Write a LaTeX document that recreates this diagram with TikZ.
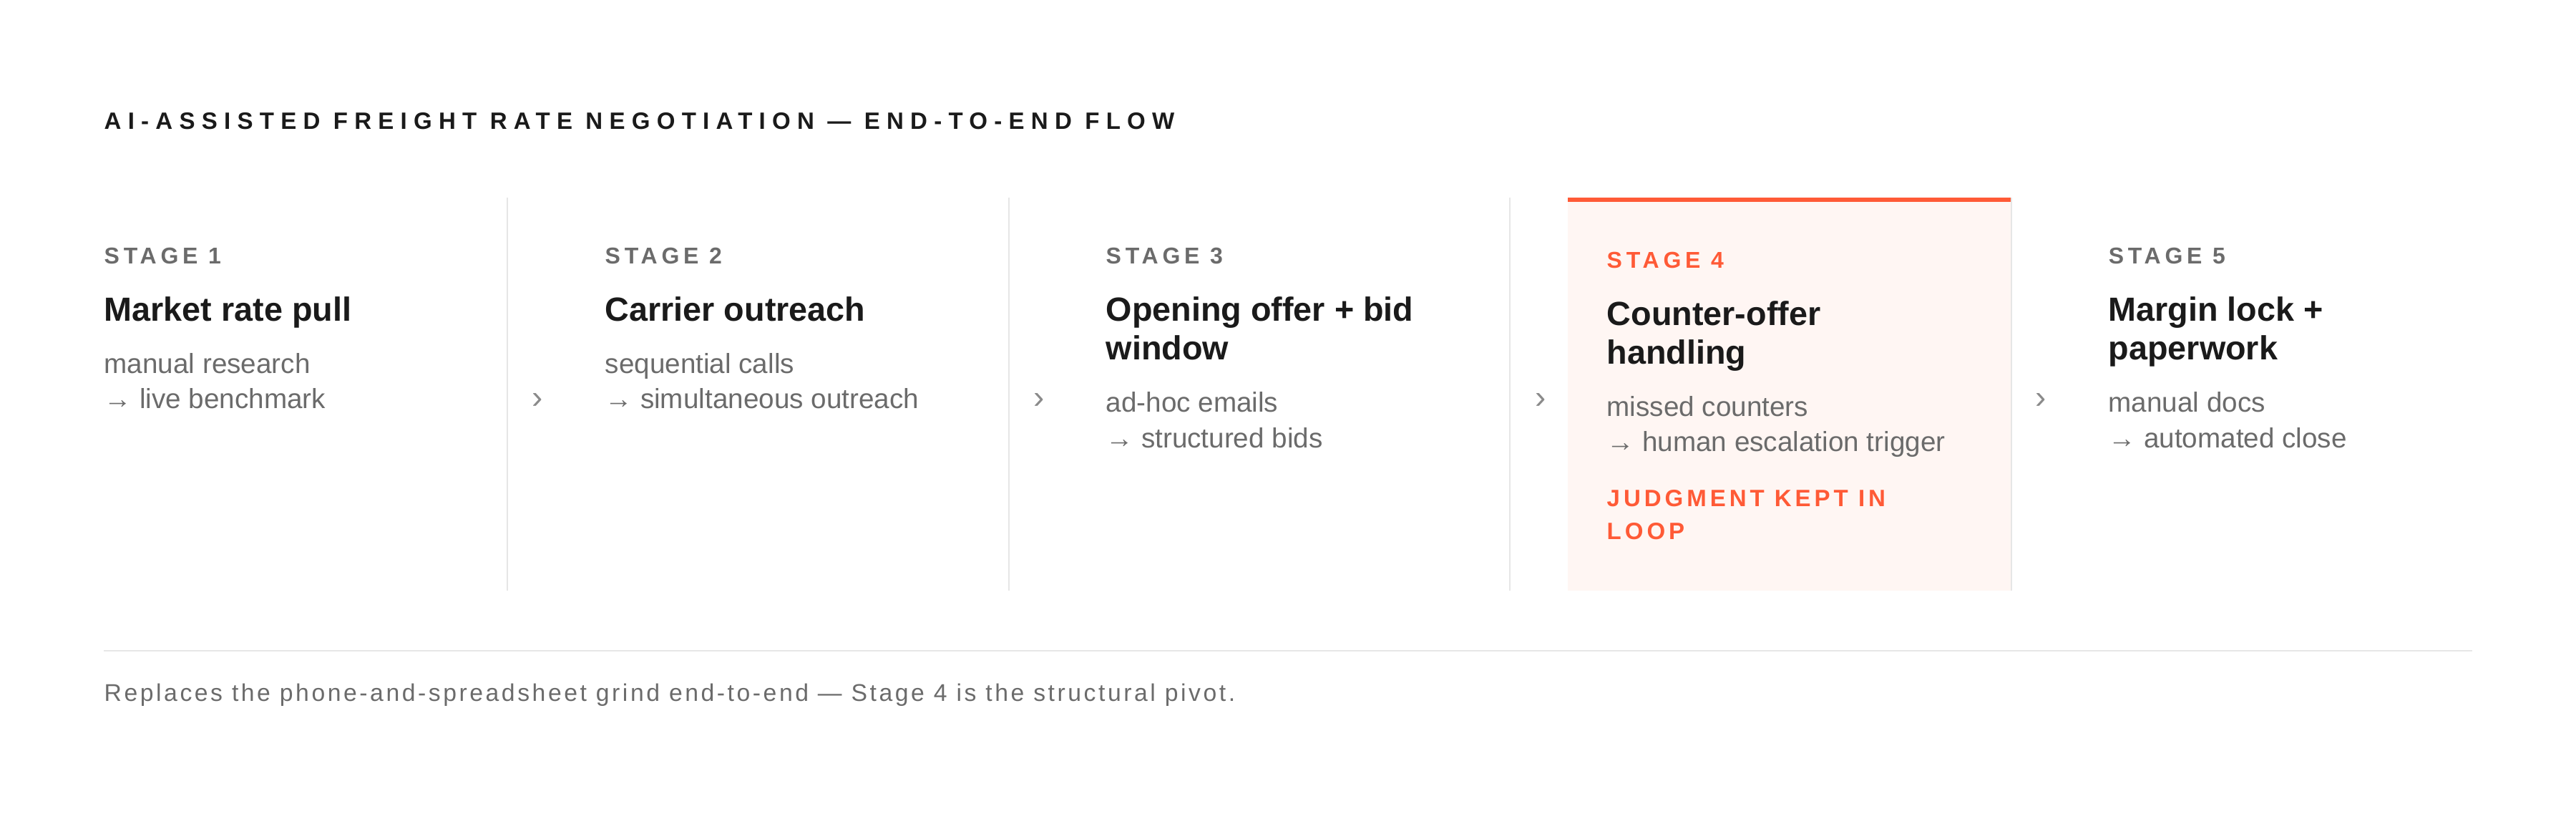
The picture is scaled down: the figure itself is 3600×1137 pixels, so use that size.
\documentclass[tikz,border=0pt]{standalone}
\usepackage{fontspec}
\setmainfont{Liberation Sans}
\usetikzlibrary{positioning}

\definecolor{ink}{HTML}{1A1A1A}
\definecolor{muted}{HTML}{6B6B6B}
\definecolor{chev}{HTML}{8A8A8A}
\definecolor{rulegray}{HTML}{E6E6E6}
\definecolor{accent}{HTML}{FF5A36}
\definecolor{wash}{HTML}{FFF6F3}

\tikzset{
  every node/.style={inner sep=0pt, anchor=base west},
  titletext/.style={font=\fontsize{9.4}{11}\selectfont\bfseries\addfontfeatures{LetterSpace=28}, text=ink},
  stagelabel/.style={font=\fontsize{9.1}{11}\selectfont\bfseries\addfontfeatures{LetterSpace=18}, text=muted},
  heading/.style={font=\fontsize{13.3}{15.4}\selectfont\bfseries, text=ink, align=left},
  body/.style={font=\fontsize{11}{14.2}\selectfont, text=muted, align=left},
  chevron/.style={font=\fontsize{13}{13}\selectfont, text=chev, anchor=center},
  divider/.style={draw=rulegray, line width=0.25mm},
}

\begin{document}
\begin{tikzpicture}
  \begin{scope}[x=0.1mm,y=-0.1mm]
    \useasboundingbox (0,0) rectangle (3600,1137);

    \node[titletext] (title) at (145,181)
      {AI-ASSISTED FREIGHT RATE NEGOTIATION — END-TO-END FLOW};

    % highlighted stage
    \fill[wash] (2191,276) rectangle (2811,825);
    \fill[accent] (2191,276) rectangle (2811,282);
    \draw[divider] (2811,276) -- (2811,825);

    % column rules
    \foreach \x in {709,1410,2110}
    \draw[divider] (\x,276) -- (\x,825);

    % stages (multi-line nodes sit on their last baseline)
    \foreach \n/\x/\head/\hy/\lo/\hi/\by in
      {1/145/{Market rate pull}/449/{manual research}/{live benchmark}/571,
       2/845/{Carrier outreach}/449/{sequential calls}/{simultaneous outreach}/571,
       3/1545/{Opening offer + bid\\window}/503/{ad-hoc emails}/{structured bids}/625,
       5/2946/{Margin lock +\\paperwork}/503/{manual docs}/{automated close}/625}
    {
      \node[stagelabel] (lbl\n) at (\x,369) {STAGE \n};
      \node[heading] (head\n) at (\x,\hy) {\head};
      \node[body] (body\n) at (\x,\by) {\lo\\→ \hi};
    }

    \node[stagelabel, text=accent] (lbl4) at (2245,375) {STAGE 4};
    \node[heading] (head4) at (2245,509) {Counter-offer\\handling};
    \node[body] (body4) at (2245,631) {missed counters\\→ human escalation trigger};
    \node[stagelabel, text=accent, align=left, font=\fontsize{9.4}{13}\selectfont\bfseries\addfontfeatures{LetterSpace=15}]
      (keep4) at (2245,753) {JUDGMENT KEPT IN\\LOOP};

    % chevrons
    \foreach \x [count=\i] in {751,1452,2153,2852}
    \node[chevron] (chev\i) at (\x,560) {›};

    % footer
    \draw[divider] (145,909) -- (3455,909);
    \node[font=\fontsize{9.6}{11}\selectfont\addfontfeatures{LetterSpace=10.5}, text=muted] (note) at (145,979)
      {Replaces the phone-and-spreadsheet grind end-to-end — Stage 4 is the structural pivot.};
  \end{scope}
\end{tikzpicture}
\end{document}
